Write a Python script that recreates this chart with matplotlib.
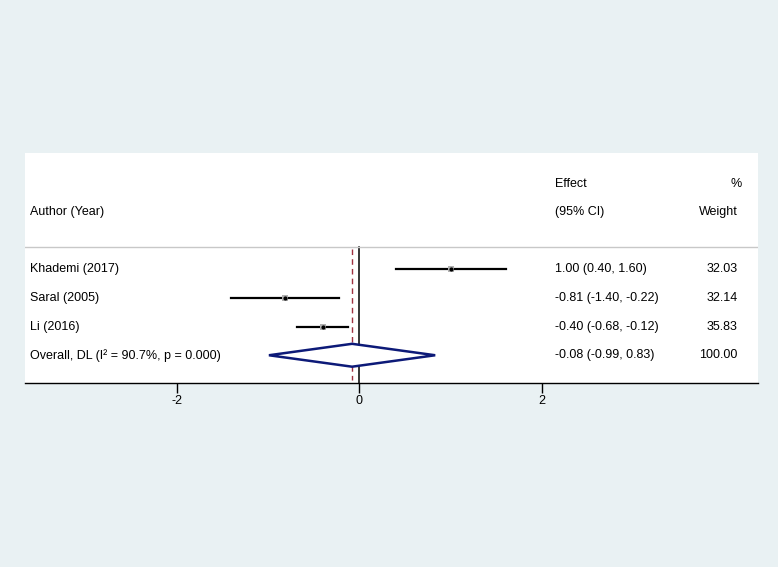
import numpy as np
import matplotlib.pyplot as plt
from matplotlib.patches import Polygon

# Study data
studies = ['Khademi (2017)', 'Saral (2005)', 'Li (2016)']
effects = [1.00, -0.81, -0.40]
lower = [0.40, -1.40, -0.68]
upper = [1.60, -0.22, -0.12]
weights = [32.03, 32.14, 35.83]

# Pooled estimate
overall_label = 'Overall, DL (I\u00b2 = 90.7%, p = 0.000)'
overall_effect = -0.08
overall_lower = -0.99
overall_upper = 0.83
overall_weight = 100.00

xticks = [-2, 0, 2]

plt.rcParams['font.family'] = ['Liberation Sans', 'DejaVu Sans']
bg = '#e9f1f3'

fig = plt.figure(figsize=(7.78, 5.67), dpi=100, facecolor=bg)
W, H = 778, 567
ax = fig.add_axes([25 / W, (H - 383) / H, (757.7 - 25) / W, (383 - 153) / H])
ax.set_facecolor('white')

ax.set_xlim(-3.66, 4.36)
ax.set_ylim(4.97, -3.07)

rows = np.arange(1, len(studies) + 1)
ov_row = len(studies) + 1

# zero line and overall effect line
ax.plot([0, 0], [0.2, 4.97], color='black', lw=1.1, zorder=1)
ax.plot([overall_effect, overall_effect], [0.3, 4.85], color='#a03040',
        lw=1.0, ls=(0, (4, 3)), zorder=1)

# separator under header
ax.axhline(0.2, color='#c8c8c8', lw=1.0, zorder=1)

# study CIs and markers
for y, e, lo, hi in zip(rows, effects, lower, upper):
    ax.plot([lo, hi], [y, y], color='black', lw=1.6, zorder=3)
ax.scatter(effects, rows, marker='s', s=16, color='#b0b0b0', zorder=4, linewidths=0)
ax.scatter(effects, rows, marker='o', s=9, color='black', zorder=5, linewidths=0)

# overall diamond
diamond = Polygon([[overall_lower, ov_row], [overall_effect, ov_row - 0.4],
                   [overall_upper, ov_row], [overall_effect, ov_row + 0.4]],
                  closed=True, facecolor='white', edgecolor='#0d1a78', lw=1.8, zorder=6)
ax.add_patch(diamond)

fs = 9
x_auth, x_eff, x_wt = -3.6, 2.14, 4.14

# headers
ax.text(x_auth, -1, 'Author (Year)', fontsize=fs, va='center', ha='left')
ax.text(x_eff, -2, 'Effect', fontsize=fs, va='center', ha='left')
ax.text(x_eff, -1, '(95% CI)', fontsize=fs, va='center', ha='left')
ax.text(4.19, -2, '%', fontsize=fs, va='center', ha='right')
ax.text(x_wt, -1, 'Weight', fontsize=fs, va='center', ha='right')

for y, s, e, lo, hi, w in zip(rows, studies, effects, lower, upper, weights):
    ax.text(x_auth, y, s, fontsize=fs, va='center', ha='left')
    ax.text(x_eff, y, f'{e:.2f} ({lo:.2f}, {hi:.2f})', fontsize=fs, va='center', ha='left')
    ax.text(x_wt, y, f'{w:.2f}', fontsize=fs, va='center', ha='right')

ax.text(x_auth, ov_row, overall_label, fontsize=fs, va='center', ha='left')
ax.text(x_eff, ov_row, f'{overall_effect:.2f} ({overall_lower:.2f}, {overall_upper:.2f})',
        fontsize=fs, va='center', ha='left')
ax.text(x_wt, ov_row, f'{overall_weight:.2f}', fontsize=fs, va='center', ha='right')

# axes styling
for side in ['top', 'left', 'right']:
    ax.spines[side].set_visible(False)
ax.spines['bottom'].set_color('black')
ax.spines['bottom'].set_linewidth(1.0)
ax.set_yticks([])
ax.set_xticks(xticks)
ax.set_xticklabels([str(t) for t in xticks])
ax.tick_params(axis='x', direction='out', length=7, width=1.0, labelsize=fs, pad=2)

fig.savefig('out.png', dpi=100, facecolor=bg)
